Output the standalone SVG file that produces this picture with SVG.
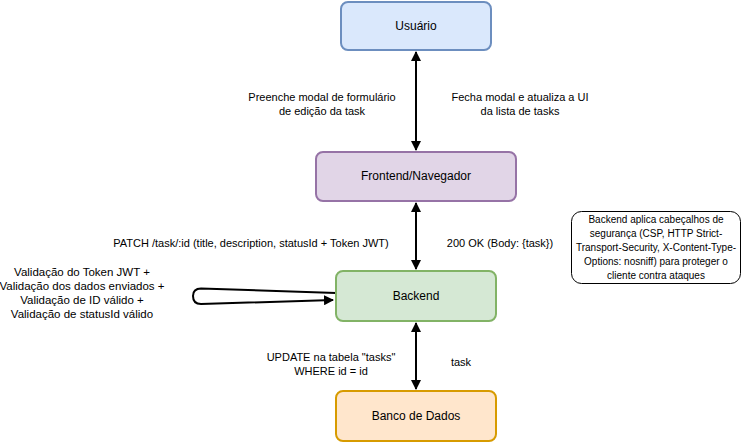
<svg xmlns="http://www.w3.org/2000/svg" width="742" height="442" viewBox="0 0 742 442">
<style>
.node{stroke-width:2}
.lbl{font-family:"Liberation Sans",Arial,sans-serif;font-size:12px;fill:#000;text-anchor:middle}
.el{font-family:"Liberation Sans",Arial,sans-serif;font-size:11px;fill:#000;text-anchor:middle}
.vl{font-family:"Liberation Sans",Arial,sans-serif;font-size:11.5px;fill:#000;text-anchor:middle}
.sm{font-family:"Liberation Sans",Arial,sans-serif;font-size:10px;fill:#000;text-anchor:middle}
.edge{fill:none;stroke:#000;stroke-width:2}
</style>
<defs>
<marker id="ah" viewBox="0 0 10 10" refX="9" refY="5" markerWidth="5" markerHeight="5" orient="auto-start-reverse" markerUnits="strokeWidth">
<path d="M0,0 L10,5 L0,10 Z" fill="#000"/>
</marker>
</defs>
<rect width="742" height="442" fill="#fff"/>
<g id="connectors">
<line class="edge" x1="416" y1="52" x2="416" y2="150" marker-start="url(#ah)" marker-end="url(#ah)"/>
<line class="edge" x1="416" y1="203" x2="416" y2="269" marker-start="url(#ah)" marker-end="url(#ah)"/>
<line class="edge" x1="416" y1="323" x2="416" y2="389" marker-start="url(#ah)" marker-end="url(#ah)"/>
<path class="edge" d="M336,293 L201,288.5 Q193,288.5 193,296 Q193,304 201,304 L333,300" marker-end="url(#ah)"/>
</g>
<g id="usuario">
<rect class="node" x="341" y="2" width="150" height="48" rx="7" fill="#dae8fc" stroke="#6c8ebf"/>
<text class="lbl" x="416" y="30">Usuário</text>
</g>
<g id="frontend">
<rect class="node" x="316" y="152" width="200" height="49" rx="7" fill="#e1d5e7" stroke="#9673a6"/>
<text class="lbl" x="416" y="180">Frontend/Navegador</text>
</g>
<g id="backend">
<rect class="node" x="336" y="271" width="160" height="50" rx="7" fill="#d5e8d4" stroke="#82b366"/>
<text class="lbl" x="416" y="300">Backend</text>
</g>
<g id="banco">
<rect class="node" x="336" y="391" width="160" height="50" rx="7" fill="#ffe6cc" stroke="#d79b00"/>
<text class="lbl" x="416" y="420">Banco de Dados</text>
</g>
<g id="seguranca">
<rect x="571.5" y="211.5" width="169" height="72" rx="10" fill="#fff" stroke="#000" stroke-width="1"/>
<text class="sm"><tspan x="656" y="223">Backend aplica cabeçalhos de</tspan><tspan x="656" y="237">segurança (CSP, HTTP Strict-</tspan><tspan x="656" y="251">Transport-Security, X-Content-Type-</tspan><tspan x="656" y="265">Options: nosniff) para proteger o</tspan><tspan x="656" y="279">cliente contra ataques</tspan></text>
</g>
<g id="labels">
<text class="el"><tspan x="322" y="101">Preenche modal de formulário</tspan><tspan x="322" y="115">de edição da task</tspan></text>
<text class="el"><tspan x="520" y="101">Fecha modal e atualiza a UI</tspan><tspan x="520" y="115">da lista de tasks</tspan></text>
<text class="el" x="251" y="247">PATCH /task/:id (title, description, statusId + Token JWT)</text>
<text class="el" x="500" y="247">200 OK (Body: {task})</text>
<text class="vl"><tspan x="82" y="276">Validação do Token JWT +</tspan><tspan x="82" y="290">Validação dos dados enviados +</tspan><tspan x="82" y="304">Validação de ID válido +</tspan><tspan x="82" y="318">Validação de statusId válido</tspan></text>
<text class="el"><tspan x="331" y="361">UPDATE na tabela "tasks"</tspan><tspan x="331" y="375">WHERE id = id</tspan></text>
<text class="el" x="461" y="366">task</text>
</g>
</svg>
